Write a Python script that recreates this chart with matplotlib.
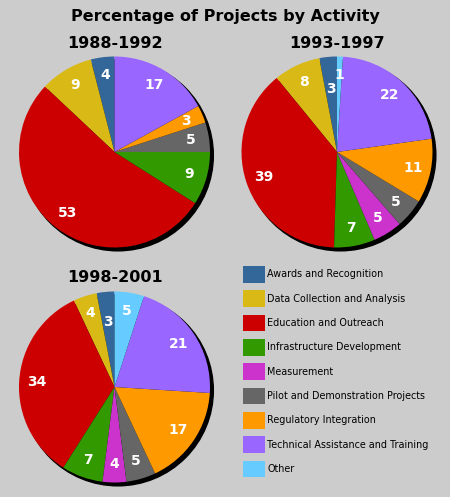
import matplotlib
matplotlib.use('Agg')
import matplotlib.pyplot as plt
from matplotlib.patches import Patch, Circle

# Activities in legend order (pies run counterclockwise from 12 o'clock)
activities = [
    "Awards and Recognition",
    "Data Collection and Analysis",
    "Education and Outreach",
    "Infrastructure Development",
    "Measurement",
    "Pilot and Demonstration Projects",
    "Regulatory Integration",
    "Technical Assistance and Training",
    "Other",
]
colors = ["#336699", "#d9b916", "#cc0000", "#339900", "#cc33cc",
          "#666666", "#ff9900", "#9966ff", "#66ccff"]

periods = ["1988-1992", "1993-1997", "1998-2001"]
values_1988 = [4, 9, 53, 9, 0, 5, 3, 17, 0]
values_1993 = [3, 8, 39, 7, 5, 5, 11, 22, 1]
values_1998 = [3, 4, 34, 7, 4, 5, 17, 21, 5]

W, H = 450, 497
fig = plt.figure(figsize=(W / 100, H / 100), dpi=100)
fig.patch.set_facecolor("#cccccc")

R = 95.5  # pie radius in px
pie_centers = [(114.5, 152), (337, 152), (114.5, 387)]
title_pos = [(115, 44), (337, 44), (115, 277)]
# small labels pulled inward where neighbours would collide
pull_in = [{}, {0: 0.66}, {0: 0.68}]


def draw_pie(center, values, pull):
    cx, cy = center
    half = 1.1 * R
    ax = fig.add_axes([(cx - half) / W, (H - cy - half) / H, 2 * half / W, 2 * half / H])
    # drop shadow
    ax.add_patch(Circle((0.035, -0.035), 1.0, color="black", zorder=0))
    idx = [i for i, v in enumerate(values) if v > 0]
    vals = [values[i] for i in idx]
    wedges, texts = ax.pie(
        vals,
        colors=[colors[i] for i in idx],
        labels=[str(v) for v in vals],
        labeldistance=0.81,
        startangle=90,
        counterclock=True,
        radius=1.0,
        wedgeprops=dict(linewidth=0),
        textprops=dict(color="white", fontsize=10, fontweight="bold"),
        frame=True,
    )
    for k, t in zip(idx, texts):
        t.set_ha("center")
        t.set_va("center")
        if k in pull:
            x, y = t.get_position()
            f = pull[k] / 0.81
            t.set_position((x * f, y * f))
    ax.set_xlim(-1.1, 1.1)
    ax.set_ylim(-1.1, 1.1)
    ax.set_aspect("equal")
    ax.axis("off")


for c, vals, p in zip(pie_centers, [values_1988, values_1993, values_1998], pull_in):
    draw_pie(c, vals, p)

fig.text(225 / W, 1 - 17 / H, "Percentage of Projects by Activity",
         ha="center", va="center", fontsize=11.5, fontweight="bold")
for (x, y), p in zip(title_pos, periods):
    fig.text(x / W, 1 - y / H, p, ha="center", va="center",
             fontsize=11.5, fontweight="bold")

handles = [Patch(facecolor=c, edgecolor="none") for c in colors]
fig.legend(handles, activities, loc="upper left",
           bbox_to_anchor=(243 / W, 1 - 266 / H),
           frameon=False, fontsize=6.9, handlelength=2.25, handleheight=2.3,
           handletextpad=0.3, labelspacing=0.8, borderpad=0, borderaxespad=0)

fig.savefig("out.png", dpi=100, facecolor=fig.get_facecolor())
